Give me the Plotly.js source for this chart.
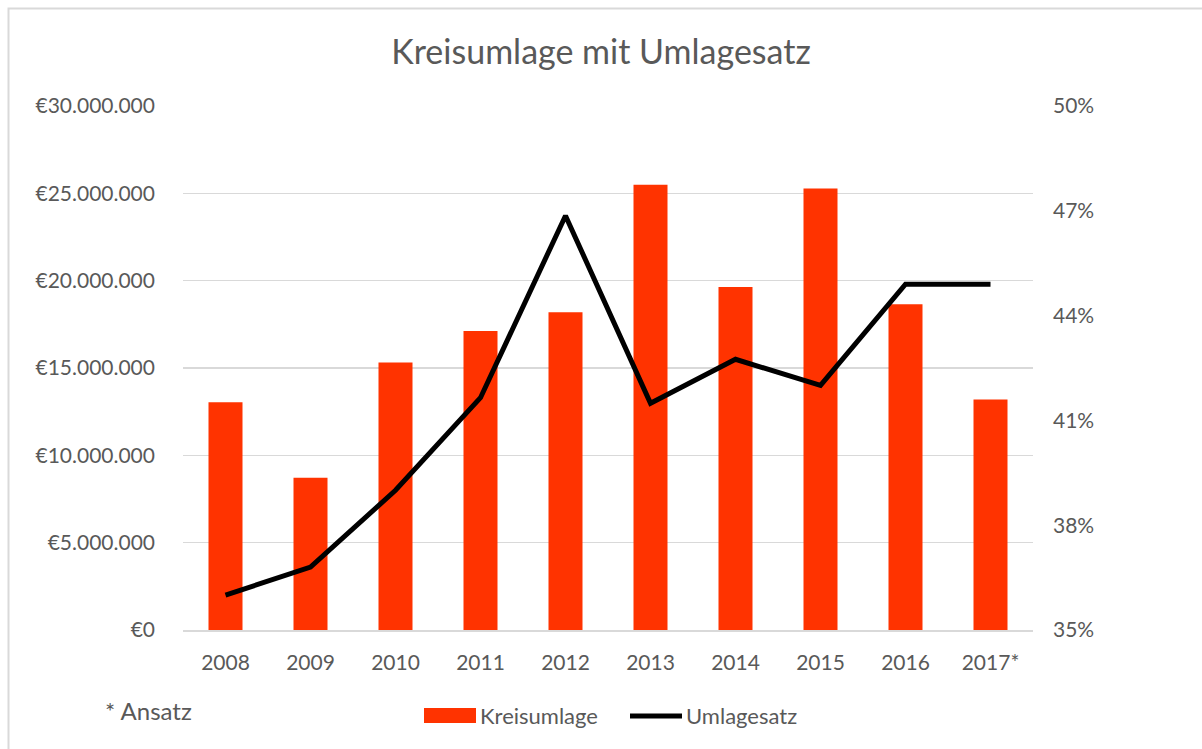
<!DOCTYPE html>
<html>
<head>
<meta charset="utf-8">
<script src="https://cdn.plot.ly/plotly-3.0.1.min.js"></script>
<style>
html,body{margin:0;padding:0;background:#fff;}
#chart{width:1202px;height:749px;}
</style>
</head>
<body>
<div id="chart"></div>
<script>
const years = ['2008','2009','2010','2011','2012','2013','2014','2015','2016','2017*'];
const kreisumlage = [13040000, 8720000, 15310000, 17120000, 18190000, 25490000, 19640000, 25270000, 18650000, 13190000];
const umlagesatz = [0.360, 0.368, 0.390, 0.4165, 0.4686, 0.4149, 0.4275, 0.420, 0.449, 0.449];
const leftTicks = [0, 5000000, 10000000, 15000000, 20000000, 25000000, 30000000];
const rightTicks = [0.35, 0.38, 0.41, 0.44, 0.47, 0.50];
const seriesNames = ['Kreisumlage', 'Umlagesatz'];
const footnote = '* Ansatz';
const chartTitle = 'Kreisumlage mit Umlagesatz';

function euro(v){
  const s = String(Math.round(v));
  return '€' + s.replace(/\B(?=(\d{3})+(?!\d))/g, '.');
}

const textColor = '#595959';
const gridColor = '#d9d9d9';
const barColor = '#ff3300';
const fontFam = 'Lato, "Open Sans", sans-serif';
const fs = 21;

const L = 183, R = 1033, T = 106, B = 630, W = 1202, H = 749;
const pw = R - L, ph = B - T;
function px2x(x){ return (x - L) / pw; }
function px2y(y){ return (B - y) / ph; }

const traces = [
  {
    type: 'bar', name: seriesNames[0], x: years, y: kreisumlage,
    marker: {color: barColor}, yaxis: 'y', showlegend: false
  },
  {
    type: 'scatter', mode: 'lines', name: seriesNames[1], x: years, y: umlagesatz,
    line: {color: '#000000', width: 5}, yaxis: 'y2', showlegend: false
  }
];

const legY = 716;
const layout = {
  width: W, height: H,
  margin: {l: L, r: W - R, t: T, b: H - B, pad: 0},
  paper_bgcolor: '#ffffff', plot_bgcolor: '#ffffff',
  separators: ',.',
  font: {family: fontFam, color: textColor, size: fs},
  title: {text: chartTitle, x: 0.5, xanchor: 'center', y: 1 - 52/H, yanchor: 'middle',
          font: {family: fontFam, size: 34, color: textColor}},
  bargap: 0.6,
  showlegend: false,
  xaxis: {type: 'category', showgrid: false, showline: true, linecolor: gridColor, linewidth: 1.5,
          ticks: '', tickfont: {family: fontFam, size: fs, color: textColor}, ticklabelstandoff: 13,
          fixedrange: true},
  yaxis: {range: [0, 30000000], tickvals: leftTicks, ticktext: leftTicks.map(euro),
          showgrid: true, gridcolor: gridColor, gridwidth: 1.5, zeroline: false, showline: false,
          ticks: '', ticklabelstandoff: 27, tickfont: {family: fontFam, size: fs, color: textColor}},
  yaxis2: {range: [0.35, 0.50], tickvals: rightTicks, tickformat: '.0%', overlaying: 'y', side: 'right',
           showgrid: false, zeroline: false, showline: false, ticks: '', ticklabelstandoff: 19,
           tickfont: {family: fontFam, size: fs, color: textColor}},
  annotations: [
    {text: footnote, xref: 'paper', yref: 'paper', x: px2x(103), y: px2y(710), xanchor: 'left', yanchor: 'middle',
     showarrow: false, font: {family: fontFam, size: 24, color: textColor}},
    {text: seriesNames[0], xref: 'paper', yref: 'paper', x: px2x(478), y: px2y(legY), xanchor: 'left', yanchor: 'middle',
     showarrow: false, font: {family: fontFam, size: 22, color: textColor}},
    {text: seriesNames[1], xref: 'paper', yref: 'paper', x: px2x(684), y: px2y(legY), xanchor: 'left', yanchor: 'middle',
     showarrow: false, font: {family: fontFam, size: 22, color: textColor}}
  ],
  shapes: [
    {type: 'rect', xref: 'paper', yref: 'paper', x0: px2x(8.5), x1: px2x(1215), y0: px2y(765), y1: px2y(8.5),
     line: {color: gridColor, width: 2}, fillcolor: 'rgba(0,0,0,0)', layer: 'below'},
    {type: 'rect', xref: 'paper', yref: 'paper', x0: px2x(424), x1: px2x(476), y0: px2y(723), y1: px2y(708),
     line: {width: 0}, fillcolor: barColor},
    {type: 'line', xref: 'paper', yref: 'paper', x0: px2x(630), x1: px2x(682), y0: px2y(legY), y1: px2y(legY),
     line: {color: '#000000', width: 5}}
  ]
};

Plotly.newPlot('chart', traces, layout, {displayModeBar: false, staticPlot: true});
</script>
</body>
</html>
